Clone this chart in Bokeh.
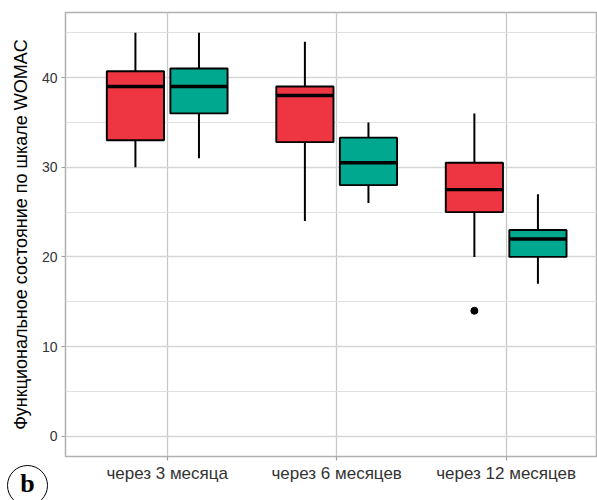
from bokeh.plotting import figure
from bokeh.models import FixedTicker, Div, GridBox
from bokeh.embed import file_html
from bokeh.resources import INLINE

# ---- data ----
periods = ["через 3 месяца", "через 6 месяцев", "через 12 месяцев"]
red_low = [30, 24, 20]
red_q1 = [33, 32.8, 25]
red_med = [39, 38, 27.5]
red_q3 = [40.7, 39, 30.5]
red_high = [45, 44, 36]
teal_low = [31, 26, 17]
teal_q1 = [36, 28, 20]
teal_med = [39, 30.5, 22]
teal_q3 = [41, 33.3, 23]
teal_high = [45, 35, 27]
outlier_period = [3]
outlier_value = [14]
y_ticks = [0, 10, 20, 30, 40]
y_minor = [5, 15, 25, 35, 45]
y_label = "Функциональное состояние по шкале WOMAC"
panel_tag = "b"

RED = "#EE3643"
TEAL = "#00A88F"
OFFSET = 0.1875
BOXW = 0.3375

p = figure(width=597, height=500, output_backend="svg", toolbar_location=None,
           x_range=(0.4, 3.539), y_range=(-2.25, 47.25),
           min_border_left=65, min_border_right=0, min_border_top=12, min_border_bottom=44)

p.background_fill_color = "white"
p.border_fill_color = "white"
p.outline_line_color = "#b0b0b0"
p.outline_line_width = 1.5

pos = [1, 2, 3]
for lows, q1s, meds, q3s, highs, off, col in [
    (red_low, red_q1, red_med, red_q3, red_high, -OFFSET, RED),
    (teal_low, teal_q1, teal_med, teal_q3, teal_high, OFFSET, TEAL),
]:
    xs = [x + off for x in pos]
    p.segment(x0=xs, y0=q3s, x1=xs, y1=highs, line_color="black", line_width=2)
    p.segment(x0=xs, y0=lows, x1=xs, y1=q1s, line_color="black", line_width=2)
    p.vbar(x=xs, width=BOXW, bottom=q1s, top=q3s, fill_color=col,
           line_color="black", line_width=1.9)
    p.segment(x0=[x - BOXW / 2 for x in xs], y0=meds, x1=[x + BOXW / 2 for x in xs], y1=meds,
              line_color="black", line_width=3.4)

p.scatter(x=[x - OFFSET for x in outlier_period], y=outlier_value, size=7,
          fill_color="black", line_color="black")

# axes
p.xaxis.ticker = FixedTicker(ticks=pos)
p.xaxis.major_label_overrides = {i + 1: s for i, s in enumerate(periods)}
p.yaxis.ticker = FixedTicker(ticks=y_ticks, minor_ticks=y_minor)

for ax in (p.xaxis[0], p.yaxis[0]):
    ax.axis_line_color = None
    ax.major_tick_line_color = "#a0a0a0"
    ax.major_tick_line_width = 1.2
    ax.major_tick_out = 4
    ax.major_tick_in = 0
    ax.minor_tick_line_color = None
    ax.major_label_text_font = "Liberation Sans"
    ax.major_label_text_color = "#333333"
    ax.major_label_text_font_size = "17px"

p.yaxis.major_label_text_font_size = "14px"
p.xaxis.major_label_standoff = 3
p.yaxis.major_label_standoff = 4
p.yaxis.axis_label = y_label
p.yaxis.axis_label_text_font = "Liberation Sans"
p.yaxis.axis_label_text_font_style = "normal"
p.yaxis.axis_label_text_font_size = "18px"
p.yaxis.axis_label_text_color = "black"
p.yaxis.axis_label_standoff = 8

p.xgrid.grid_line_color = "#c8c8c8"
p.xgrid.grid_line_width = 1.3
p.ygrid.grid_line_color = "#d6d6d6"
p.ygrid.grid_line_width = 1.3
p.ygrid.minor_grid_line_color = "#e0e0e0"
p.ygrid.minor_grid_line_width = 1.0

# panel tag "b" in a circle, overlaid in the same grid cell as the figure
tag_html = (
    '<div style="width:41px;height:41px;box-sizing:border-box;border:1.6px solid #000;'
    'border-radius:50%;background:#fff;text-align:center;'
    "font-family:'Liberation Serif';font-weight:bold;font-size:26px;line-height:36px;"
    'color:#000;">' + panel_tag + '</div>'
)
tag = Div(text=tag_html, width=41, height=35, margin=(465, 0, 0, 7),
          styles={"overflow": "hidden"})

layout = GridBox(children=[(p, 0, 0), (tag, 0, 0)])

open("out.html", "w").write(file_html(layout, INLINE))
